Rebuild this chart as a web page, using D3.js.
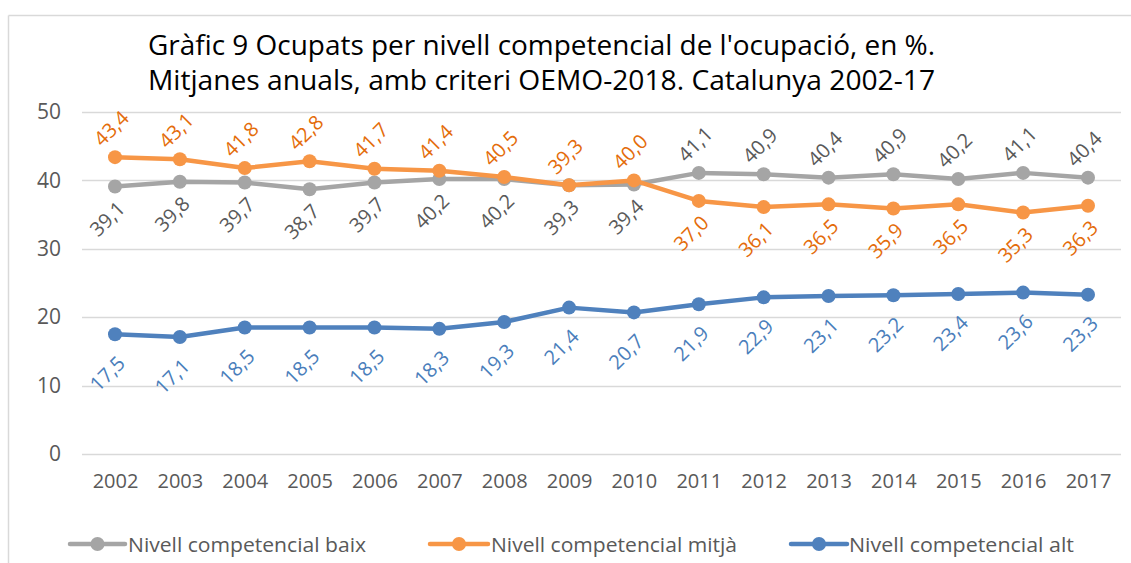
<!DOCTYPE html>
<html>
<head>
<meta charset="utf-8">
<script src="https://cdn.jsdelivr.net/npm/d3@7/dist/d3.min.js"></script>
<style>
  html, body { margin: 0; padding: 0; background: #fff; }
  svg { display: block; }
  text { font-family: "Open Sans", "Noto Sans", sans-serif; }
</style>
</head>
<body>
<svg id="chart" width="1131" height="563"></svg>
<script>
// ---- data ----
const years = ["2002","2003","2004","2005","2006","2007","2008","2009","2010","2011","2012","2013","2014","2015","2016","2017"];
const baix  = [39.1,39.8,39.7,38.7,39.7,40.2,40.2,39.3,39.4,41.1,40.9,40.4,40.9,40.2,41.1,40.4];
const mitja = [43.4,43.1,41.8,42.8,41.7,41.4,40.5,39.3,40.0,37.0,36.1,36.5,35.9,36.5,35.3,36.3];
const alt   = [17.5,17.1,18.5,18.5,18.5,18.3,19.3,21.4,20.7,21.9,22.9,23.1,23.2,23.4,23.6,23.3];
const seriesNames = ["Nivell competencial baix","Nivell competencial mitjà","Nivell competencial alt"];
const yTicks = [0,10,20,30,40,50];
const titleLines = ["Gràfic 9 Ocupats per nivell competencial de l'ocupació, en %.",
                    "Mitjanes anuals, amb criteri OEMO-2018. Catalunya 2002-17"];

// ---- styling ----
const lineColors  = ["#A5A5A5","#F79646","#4F81BD"];
const labelColors = ["#595959","#E46C0A","#4A7EBB"];

const svg = d3.select("#chart");
const W = 1131, H = 563;

svg.append("rect").attr("width", W).attr("height", H).attr("fill", "#fff");

// outer border (top & left visible)
svg.append("line").attr("x1", 8.5).attr("x2", W).attr("y1", 15.5).attr("y2", 15.5)
  .attr("stroke", "#D9D9D9").attr("stroke-width", 1.5);
svg.append("line").attr("x1", 8.5).attr("x2", 8.5).attr("y1", 15.5).attr("y2", H)
  .attr("stroke", "#D9D9D9").attr("stroke-width", 1.5);

// title
titleLines.forEach((t, i) => {
  svg.append("text")
    .attr("x", 148).attr("y", 55 + i * 35)
    .attr("font-size", 27).attr("fill", "#000")
    .attr("textLength", i === 0 ? 787 : 787)
    .attr("lengthAdjust", "spacingAndGlyphs")
    .text(t);
});

// scales
const x = d3.scalePoint().domain(years).range([115, 1088]);
const y = d3.scaleLinear().domain([0, 50]).range([454, 112]);

// gridlines
svg.append("g").selectAll("line").data(yTicks).join("line")
  .attr("x1", 82).attr("x2", 1121)
  .attr("y1", d => Math.round(y(d)) + 0.5).attr("y2", d => Math.round(y(d)) + 0.5)
  .attr("stroke", "#D9D9D9").attr("stroke-width", 1.5);

// y axis labels
const yAxis = d3.axisLeft(y).tickValues(yTicks).tickSize(0).tickPadding(0).tickFormat(d3.format("d"));
svg.append("g").attr("transform", "translate(61,0)").call(yAxis)
  .call(g => g.select(".domain").remove())
  .call(g => g.selectAll("text").attr("font-size", 21).attr("fill", "#595959")
    .attr("font-family", "Open Sans, sans-serif"));

// x axis labels
const xAxis = d3.axisBottom(x).tickSize(0).tickPadding(0);
svg.append("g").attr("transform", "translate(0,474)").call(xAxis)
  .call(g => g.select(".domain").remove())
  .call(g => g.selectAll("text").attr("font-size", 20).attr("fill", "#595959")
    .attr("font-family", "Open Sans, sans-serif"));

const fmt = v => d3.format(".1f")(v).replace(".", ",");
const line = d3.line().x((d, i) => x(years[i])).y(d => y(d));

const allSeries = [baix, mitja, alt];
// label position: true = above
const above = [
  (i) => i >= 9,
  (i) => i <= 8,
  (i) => false
];

allSeries.forEach((vals, s) => {
  const g = svg.append("g");
  g.append("path").datum(vals).attr("d", line)
    .attr("fill", "none").attr("stroke", lineColors[s]).attr("stroke-width", 4.5)
    .attr("stroke-linejoin", "round");
  g.selectAll("circle").data(vals).join("circle")
    .attr("cx", (d, i) => x(years[i])).attr("cy", d => y(d)).attr("r", 7)
    .attr("fill", lineColors[s]);
});

allSeries.forEach((vals, s) => {
  svg.append("g").selectAll("text").data(vals).join("text")
    .attr("transform", (d, i) => {
      const px = x(years[i]), py = y(d);
      let dx, dy;
      if (above[s](i)) { dx = -4; dy = -29; }
      else if (s === 2) { dx = -8; dy = 39; }
      else { dx = -8; dy = 32; }
      return `translate(${px + dx},${py + dy}) rotate(-45)`;
    })
    .attr("text-anchor", "middle").attr("dominant-baseline", "central")
    .attr("font-size", 20).attr("fill", labelColors[s])
    .text(d => fmt(d));
});

// legend
const legendLine = [[70,125],[430,488],[791,847]];
const legendText = [[128,238],[491,246],[849,225]];
const lg = svg.append("g");
seriesNames.forEach((n, s) => {
  const ly = 544;
  const [a, b] = legendLine[s];
  lg.append("line").attr("x1", a).attr("x2", b).attr("y1", ly).attr("y2", ly)
    .attr("stroke", lineColors[s]).attr("stroke-width", 4.5).attr("stroke-linecap", "round");
  lg.append("circle").attr("cx", (a + b) / 2).attr("cy", ly).attr("r", 7).attr("fill", lineColors[s]);
  lg.append("text").attr("x", legendText[s][0]).attr("y", ly)
    .attr("dominant-baseline", "central")
    .attr("font-size", 20).attr("fill", "#595959")
    .attr("textLength", legendText[s][1]).attr("lengthAdjust", "spacingAndGlyphs")
    .text(n);
});
</script>
</body>
</html>
